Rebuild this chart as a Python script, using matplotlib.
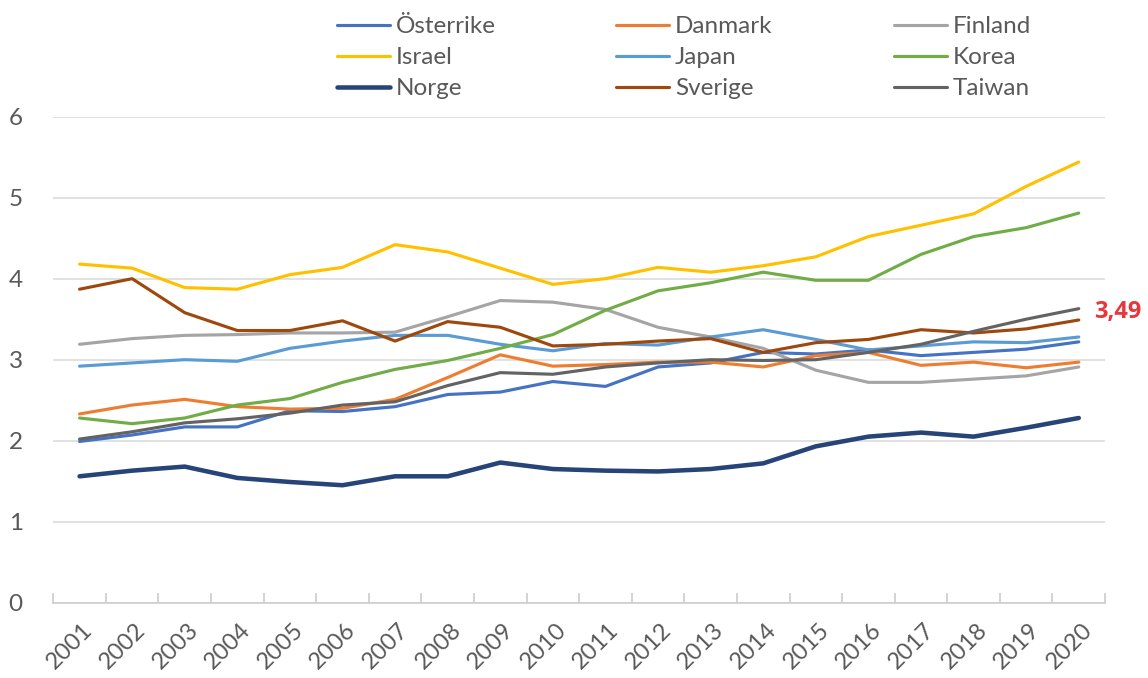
import matplotlib
matplotlib.use("Agg")
import matplotlib.pyplot as plt
from matplotlib.transforms import ScaledTranslation

years = [str(y) for y in range(2001, 2021)]

osterrike = [1.99, 2.07, 2.17, 2.17, 2.37, 2.36, 2.42, 2.57, 2.60, 2.73,
             2.67, 2.91, 2.96, 3.09, 3.07, 3.12, 3.05, 3.09, 3.13, 3.22]
danmark = [2.33, 2.44, 2.51, 2.42, 2.39, 2.40, 2.51, 2.78, 3.06, 2.92,
           2.94, 2.97, 2.97, 2.91, 3.05, 3.09, 2.93, 2.97, 2.90, 2.97]
finland = [3.19, 3.26, 3.30, 3.31, 3.33, 3.33, 3.34, 3.53, 3.73, 3.71,
           3.62, 3.40, 3.28, 3.14, 2.87, 2.72, 2.72, 2.76, 2.80, 2.91]
israel = [4.18, 4.13, 3.89, 3.87, 4.05, 4.14, 4.42, 4.33, 4.13, 3.93,
          4.00, 4.14, 4.08, 4.16, 4.27, 4.52, 4.66, 4.80, 5.14, 5.44]
japan = [2.92, 2.96, 3.00, 2.98, 3.14, 3.23, 3.30, 3.30, 3.19, 3.11,
         3.20, 3.18, 3.28, 3.37, 3.25, 3.12, 3.17, 3.22, 3.21, 3.28]
korea = [2.28, 2.21, 2.28, 2.44, 2.52, 2.72, 2.88, 2.99, 3.14, 3.31,
         3.61, 3.85, 3.95, 4.08, 3.98, 3.98, 4.30, 4.52, 4.63, 4.81]
norge = [1.56, 1.63, 1.68, 1.54, 1.49, 1.45, 1.56, 1.56, 1.73, 1.65,
         1.63, 1.62, 1.65, 1.72, 1.93, 2.05, 2.10, 2.05, 2.16, 2.28]
sverige = [3.87, 4.00, 3.58, 3.36, 3.36, 3.48, 3.23, 3.47, 3.40, 3.17,
           3.19, 3.23, 3.26, 3.09, 3.21, 3.25, 3.37, 3.33, 3.38, 3.49]
taiwan = [2.02, 2.11, 2.22, 2.27, 2.34, 2.44, 2.48, 2.68, 2.84, 2.82,
          2.91, 2.96, 3.00, 2.99, 3.00, 3.09, 3.19, 3.35, 3.50, 3.63]

names = ["Österrike", "Danmark", "Finland", "Israel", "Japan", "Korea",
         "Norge", "Sverige", "Taiwan"]
series = [osterrike, danmark, finland, israel, japan, korea, norge, sverige, taiwan]
colors = ["#4472C4", "#ED7D31", "#A5A5A5", "#FFC000", "#5B9BD5", "#70AD47",
          "#264478", "#9E480E", "#636363"]
widths = [2.25, 2.25, 2.25, 2.25, 2.25, 2.25, 3.25, 2.25, 2.25]

TEXT = "#595959"
FS = 17.5
plt.rcParams["font.family"] = ["Lato", "DejaVu Sans"]

fig = plt.figure(figsize=(11.48, 6.78), dpi=100)
ax = fig.add_axes([0.0464, 0.1111, 0.9162, 0.7168])

x = list(range(len(years)))
handles = []
for name, vals, c, lw in zip(names, series, colors, widths):
    (ln,) = ax.plot(x, vals, color=c, lw=lw, solid_capstyle="round",
                    solid_joinstyle="round", label=name)
    handles.append(ln)

ax.set_xlim(-0.5, len(years) - 0.5)
ax.set_ylim(0, 6)
ax.set_yticks(range(7))
ax.grid(axis="y", color="#D9D9D9", lw=1.1)
ax.set_axisbelow(True)
for s in ["top", "right", "left"]:
    ax.spines[s].set_visible(False)
ax.spines["bottom"].set_color("#D0D0D0")
ax.spines["bottom"].set_linewidth(1.3)

ax.set_xticks(x)
ax.set_xticklabels(years, rotation=45, ha="right", va="center",
                   rotation_mode="anchor", fontsize=17, color=TEXT)
ax.set_xticks([i - 0.5 for i in range(len(years) + 1)], minor=True)
ax.tick_params(axis="x", which="major", length=0, pad=17)
ax.tick_params(axis="x", which="minor", length=7, width=1.3,
               color="#D0D0D0", direction="in")
shift = ScaledTranslation(10 / 100, 0, fig.dpi_scale_trans)
for lab in ax.get_xticklabels():
    lab.set_transform(lab.get_transform() + shift)
ax.tick_params(axis="y", length=0, pad=22, labelsize=FS, labelcolor=TEXT)

ax.annotate("3,49", xy=(x[-1], sverige[-1]), xytext=(11, 6),
            textcoords="offset points", ha="left", va="center",
            fontsize=17, fontweight="bold", color="#E8363A",
            family=["Open Sans", "DejaVu Sans"])

# legend: three columns placed separately
col_x = [337, 616, 894]
for i, cx in enumerate(col_x):
    fig.legend(handles=handles[i::3], loc="upper left",
               bbox_to_anchor=(cx / 1148, 1 - 16 / 678), frameon=False,
               fontsize=FS, labelcolor=TEXT, handlelength=2.2,
               handletextpad=0.22, labelspacing=0.42, borderpad=0,
               borderaxespad=0)

fig.savefig("out.png", dpi=100)
